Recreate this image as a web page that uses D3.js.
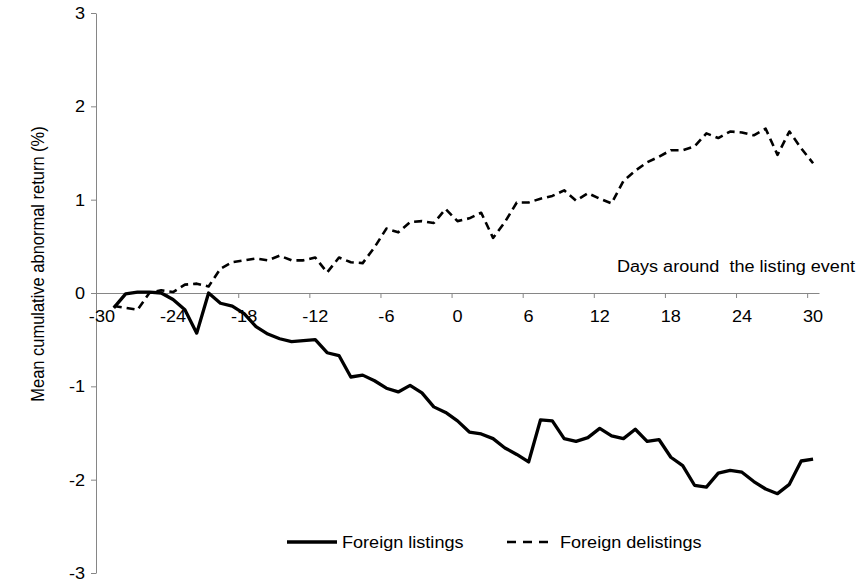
<!DOCTYPE html>
<html>
<head>
<meta charset="utf-8">
<script src="https://cdn.jsdelivr.net/npm/d3@7/dist/d3.min.js"></script>
<style>
body { margin: 0; background: #fff; }
svg text { font-family: "Liberation Sans", Arial, sans-serif; font-size: 16px; fill: #000; }
.axis path, .axis line { stroke: #868686; }
</style>
</head>
<body>
<div id="chart"></div>
<script>
// days around the listing event
var days = [-29, -28, -27, -26, -25, -24, -23, -22, -21, -20,
            -19, -18, -17, -16, -15, -14, -13, -12, -11, -10,
            -9, -8, -7, -6, -5, -4, -3, -2, -1, 0,
            1, 2, 3, 4, 5, 6, 7, 8, 9, 10,
            11, 12, 13, 14, 15, 16, 17, 18, 19, 20,
            21, 22, 23, 24, 25, 26, 27, 28, 29, 30];

// mean CAR (%), foreign listings
var listings = [-0.16, -0.01, 0.01, 0.01, 0.0, -0.07, -0.18, -0.43, 0.0, -0.11,
                -0.14, -0.22, -0.36, -0.44, -0.49, -0.52, -0.51, -0.50, -0.64, -0.67,
                -0.90, -0.88, -0.94, -1.02, -1.06, -0.99, -1.07, -1.22, -1.28, -1.37,
                -1.49, -1.51, -1.56, -1.66, -1.73, -1.81, -1.36, -1.37, -1.56, -1.59,
                -1.55, -1.45, -1.53, -1.56, -1.46, -1.59, -1.57, -1.76, -1.85, -2.06,
                -2.08, -1.93, -1.90, -1.92, -2.02, -2.10, -2.15, -2.05, -1.80, -1.78];

// mean CAR (%), foreign delistings
var delistings = [-0.14, -0.16, -0.18, 0.0, 0.03, 0.01, 0.09, 0.10, 0.07, 0.26,
                  0.33, 0.35, 0.37, 0.35, 0.40, 0.35, 0.35, 0.38, 0.22, 0.38,
                  0.33, 0.32, 0.49, 0.69, 0.65, 0.76, 0.77, 0.75, 0.90, 0.77,
                  0.80, 0.86, 0.59, 0.76, 0.97, 0.97, 1.01, 1.04, 1.10, 0.99,
                  1.07, 1.01, 0.96, 1.20, 1.31, 1.40, 1.46, 1.53, 1.53, 1.57,
                  1.71, 1.66, 1.73, 1.72, 1.69, 1.76, 1.48, 1.73, 1.55, 1.39];

var xTickLabels = [-30, -24, -18, -12, -6, 0, 6, 12, 18, 24, 30];
var yTickLabels = [-3, -2, -1, 0, 1, 2, 3];

var width = 859,
    height = 586,
    stretch = 1.13; // the source text is a bit wider than it is tall

var svg = d3.select("#chart").append("svg")
    .attr("width", width)
    .attr("height", height);

// category axis: each day is one slot, y axis sits at left edge of first slot
var x = d3.scaleLinear()
    .domain([-30.5, 30.5])
    .range([96, 819]);

var y = d3.scaleLinear()
    .domain([-3, 3])
    .range([573, 13]);

// horizontal text, stretched around its anchor point
function label(g, px, py, anchor, str) {
    return g.append("text")
        .attr("transform", "translate(" + px + "," + py + ")scale(" + stretch + ",1)")
        .attr("text-anchor", anchor)
        .style("white-space", "pre")
        .text(str);
}

// y axis
svg.append("g")
    .attr("class", "axis")
    .attr("transform", "translate(" + x(-30.5) + ",0)")
    .call(d3.axisLeft(y).tickValues(yTickLabels).tickSize(5).tickSizeOuter(0).tickFormat(""));

yTickLabels.forEach(function(d) {
    label(svg, 85, y(d) + 6, "end", String(d));
});

// x axis through zero, tick marks between categories
svg.append("g")
    .attr("class", "axis")
    .attr("transform", "translate(0," + y(0) + ")")
    .call(d3.axisBottom(x)
        .tickValues(xTickLabels.map(function(d) { return d - 0.5; }))
        .tickSize(5)
        .tickSizeOuter(0)
        .tickFormat(""));

xTickLabels.forEach(function(d) {
    label(svg, x(d), y(0) + 29, "middle", String(d));
});

// axis titles
svg.append("text")
    .attr("transform", "translate(44,264)rotate(-90)scale(1.03," + stretch + ")")
    .attr("text-anchor", "middle")
    .text("Mean cumulative abnormal return (%)");

label(svg, 855, 272, "end", "Days around  the listing event");

// lines
function lineFor(values) {
    return d3.line()
        .x(function(d, i) { return x(days[i]); })
        .y(function(d) { return y(d); })(values);
}

svg.append("path")
    .attr("d", lineFor(delistings))
    .attr("fill", "none")
    .attr("stroke", "#000")
    .attr("stroke-width", 2.6)
    .attr("stroke-dasharray", "8,5")
    .attr("stroke-linejoin", "round");

svg.append("path")
    .attr("d", lineFor(listings))
    .attr("fill", "none")
    .attr("stroke", "#000")
    .attr("stroke-width", 3.3)
    .attr("stroke-linejoin", "round");

// legend
var legend = svg.append("g").attr("transform", "translate(0,542)");

legend.append("line")
    .attr("x1", 287).attr("x2", 337)
    .attr("stroke", "#000")
    .attr("stroke-width", 3.3);

label(legend, 342, 6, "start", "Foreign listings");

legend.append("line")
    .attr("x1", 507).attr("x2", 554)
    .attr("stroke", "#000")
    .attr("stroke-width", 2.6)
    .attr("stroke-dasharray", "9,7");

label(legend, 560, 6, "start", "Foreign delistings");
</script>
</body>
</html>
